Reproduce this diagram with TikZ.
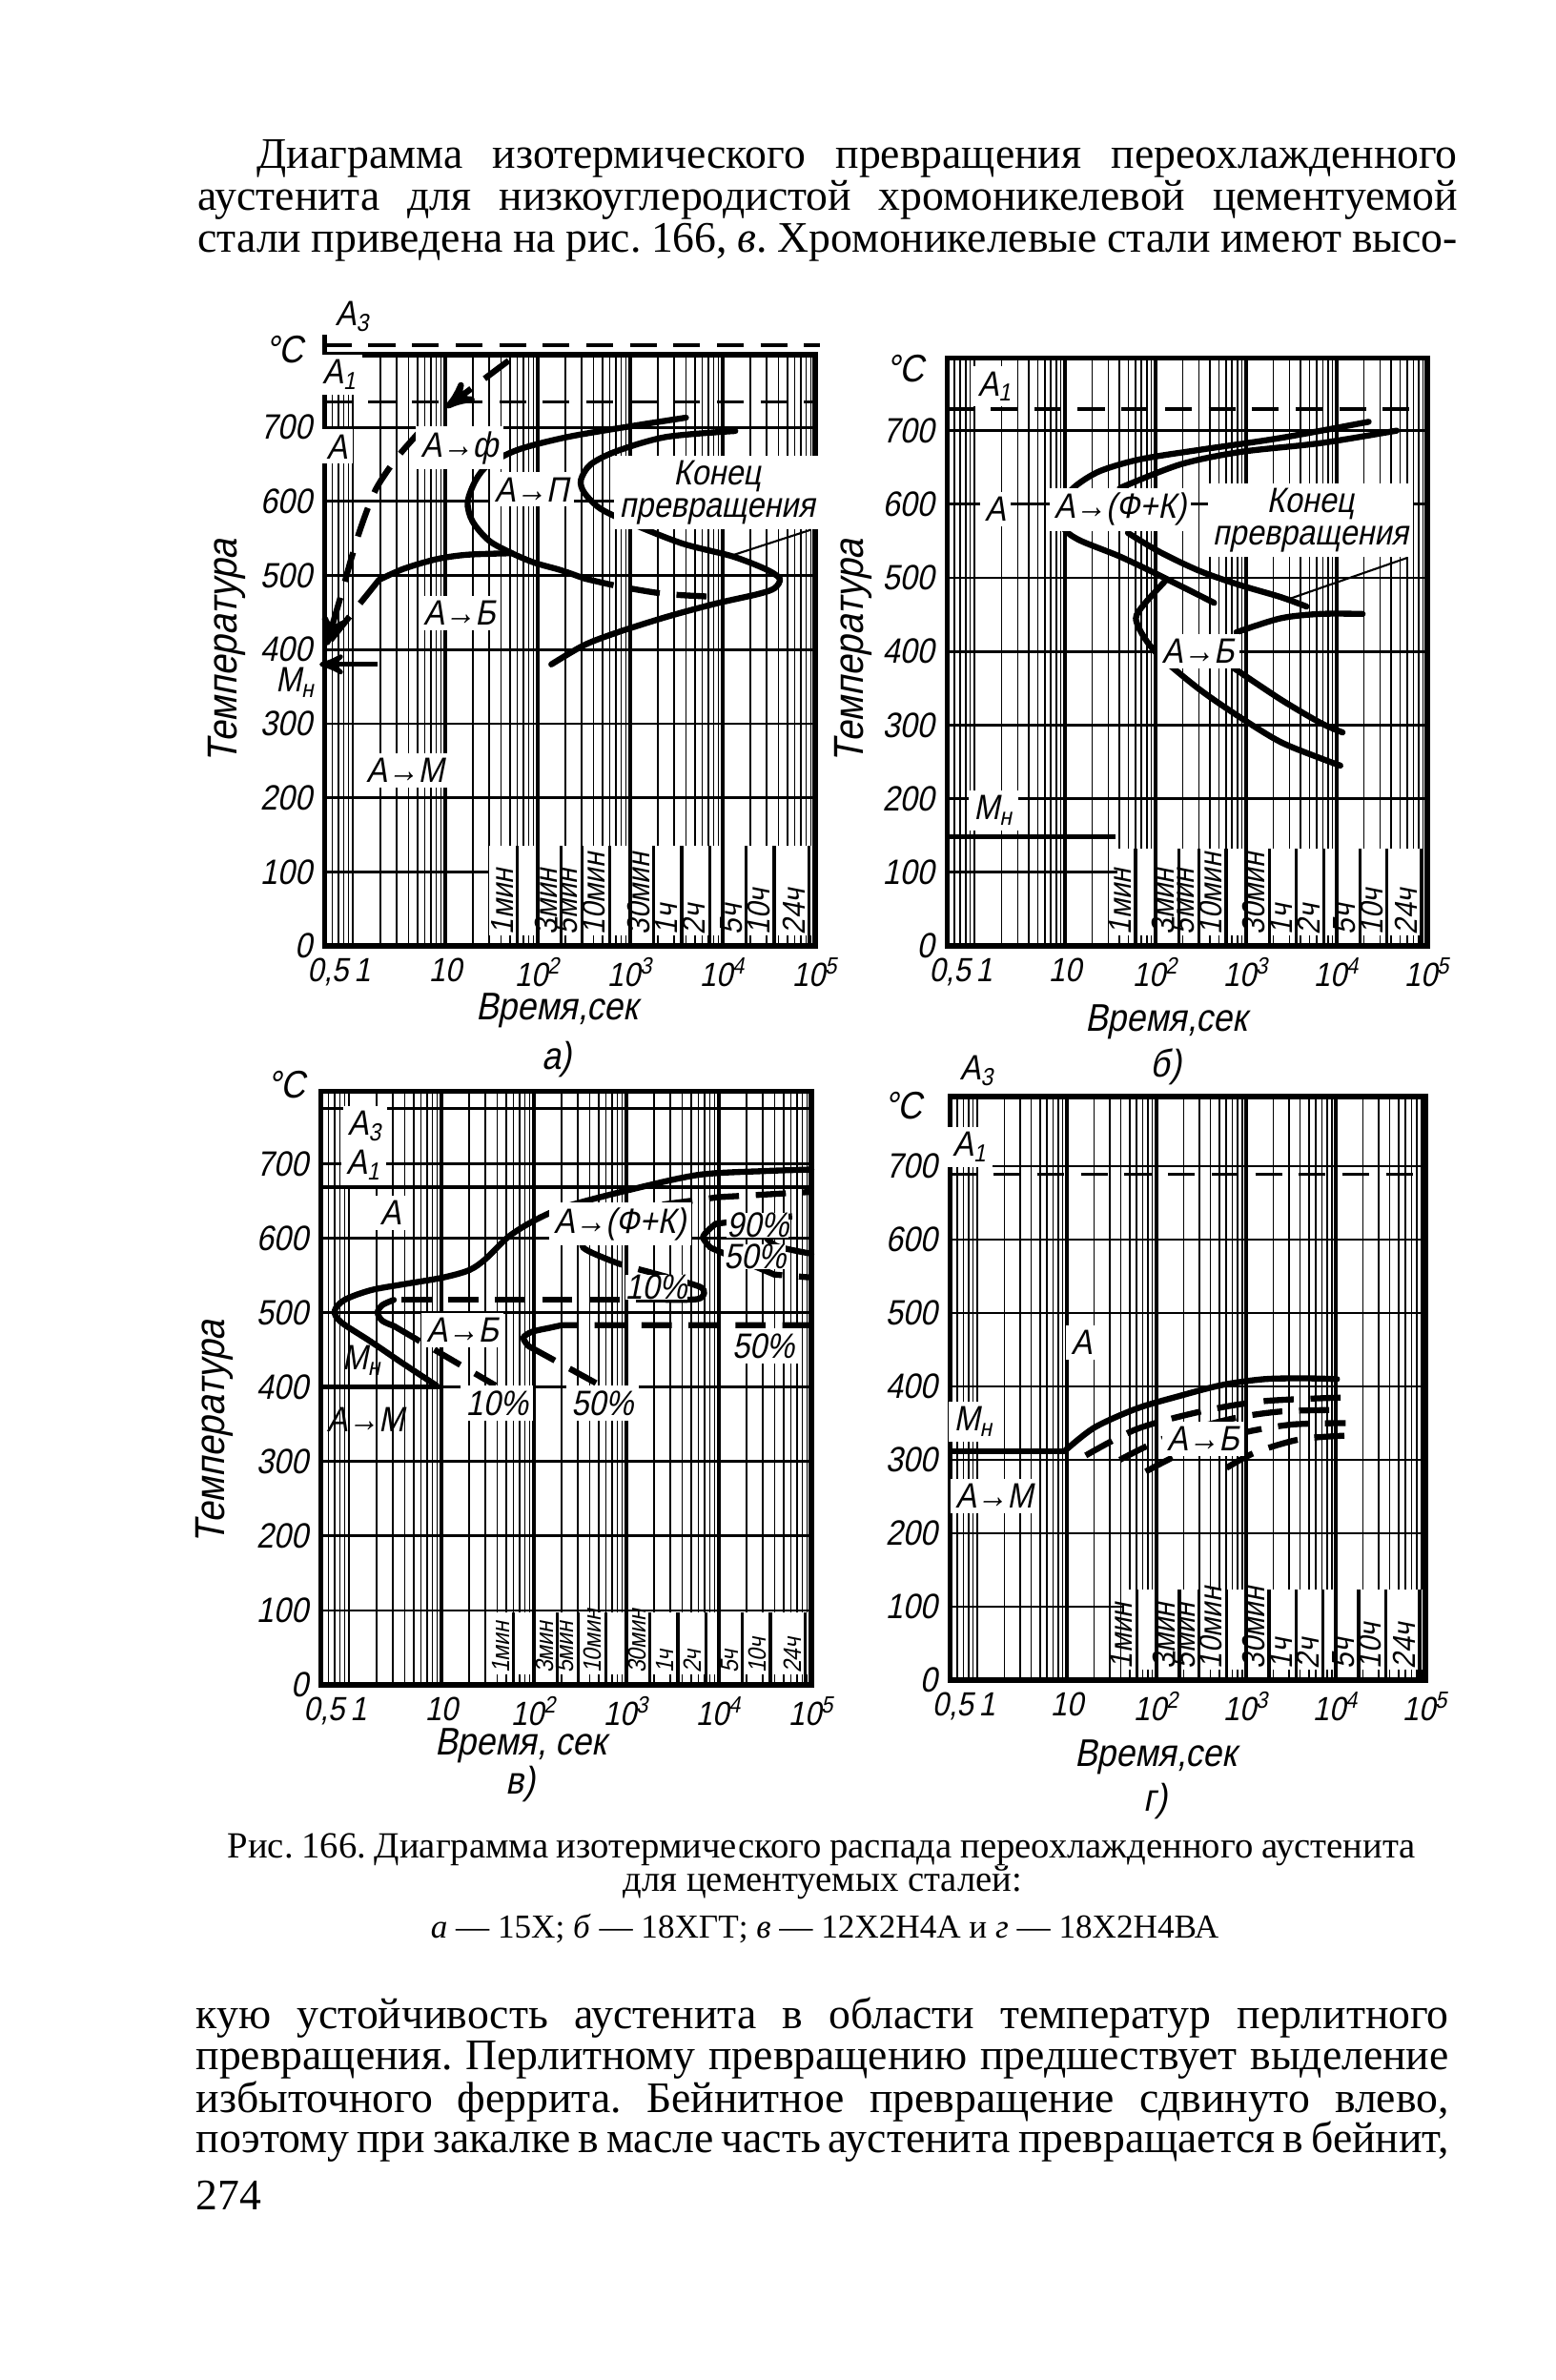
\documentclass[tikz,border=0pt]{standalone}
\usepackage{fontspec}
\setmainfont{Liberation Serif}
\newfontfamily\gost[FakeSlant=0.2,FakeStretch=0.88]{Liberation Sans}
\usepackage{tikz}
\usetikzlibrary{arrows,calc,positioning}
\tikzset{
  fine/.style = {line width=0.45pt},
  hline/.style = {line width=0.8pt},
  decade/.style = {line width=0.9pt},
  frame/.style = {line width=1.5pt},
  curve/.style = {line width=1.8pt, line cap=round},
  dcurve/.style = {curve, line cap=butt, dash pattern=on 9pt off 5pt},
  crit/.style = {line width=1pt, dash pattern=on 8pt off 5pt},
  pointer/.style = {line width=0.6pt},
  plab/.style = {font=\gost\fontsize{10.5}{9.5}\selectfont, inner sep=1.5pt, fill=white, align=center},
  ylab/.style = {font=\gost\fontsize{10.5}{10}\selectfont, anchor=east, inner sep=0pt, xshift=-0.13cm},
  xlab/.style = {font=\gost\fontsize{10}{10}\selectfont, anchor=north, inner sep=0pt, yshift=-0.12cm},
  tlab/.style = {rotate=90, anchor=south west, inner sep=1pt},
  axtitle/.style = {font=\gost\fontsize{11.5}{11}\selectfont, inner sep=0pt},
  bodyline/.style = {anchor=base west, inner sep=0pt, font=\fontsize{13}{16}\selectfont\frenchspacing},
  capline/.style = {anchor=base, inner sep=0pt, font=\fontsize{11}{13}\selectfont\frenchspacing}
}
% log grid, minute/hour marks and axis numbers of one panel
% #1 prefix, #2 frame top, #3 left of label zone, #4 top of label zone, #5 mark font size
\newcommand{\ttdgrid}[5]{%
  \foreach \e in {-1,...,4}
    \foreach \m in {1,...,9} {
      \pgfmathsetmacro{\lx}{\e+log10(\m)}
      \ifdim\lx pt>-0.29pt \draw[fine] (\lx,0) -- (\lx,#2); \fi
    }
  \foreach \T in {1,...,7} \draw[hline] (-0.301,\T) -- (5,\T);
  \foreach \e in {1,...,4} \draw[decade] (\e,0) -- (\e,#2);
  \fill[white] (#3,0.03) rectangle (4.97,#4);
  \foreach \e in {1,...,4}
    \foreach \m in {1,...,9} {
      \pgfmathsetmacro{\lx}{\e+log10(\m)}
      \ifdim\lx pt>#3pt \draw[fine] (\lx,0) -- (\lx,0.14); \fi
    }
  \foreach \lt/\txt [count=\i] in {1.778/1мин,2.255/3мин,2.477/5мин,2.778/10мин,3.255/30мин,
      3.556/1ч,3.857/2ч,4.255/5ч,4.556/10ч,4.936/24ч} {
    \draw[decade] (\lt,0) -- (\lt,#4);
    \node[tlab, font=\gost\fontsize{#5}{#5}\selectfont] (#1-t\i) at (\lt,0.1) {\txt};
  }
  \foreach \e in {2,3,4} \draw[decade] (\e,0) -- (\e,#4);
  \draw[frame] (-0.301,0) rectangle (5,#2);
  \foreach \T/\lab in {0/0,1/100,2/200,3/300,4/400,5/500,6/600,7/700}
    \node[ylab] (#1-y\T) at (-0.301,\T) {\lab};
  \node[xlab] (#1-x0) at (-0.15,0) {0,5\,1};
  \node[xlab] (#1-x1) at (1,0) {10};
  \foreach \e in {2,...,5}
    \node[xlab] (#1-x\e) at (\e,0) {10\textsuperscript{\e}};
}

\begin{document}
\begin{tikzpicture}[>=stealth']
\useasboundingbox (0,0) rectangle (16.32,-24.96);

% text above the figure
\node[bodyline] (top1) at (2.69,-1.76) {\makebox[12.59cm][s]{Диаграмма изотермического превращения переохлажденного}};
\node[bodyline] (top2) at (2.07,-2.20) {\makebox[13.21cm][s]{аустенита для низкоуглеродистой хромоникелевой цементуемой}};
\node[bodyline] (top3) at (2.07,-2.64) {\makebox[13.21cm][s]{стали приведена на рис. 166, \textit{в}. Хромоникелевые стали имеют высо-}};

% a) 15X
\begin{scope}[shift={(3.70,-9.92)}, x=0.97cm, y=0.777cm]
  \ttdgrid{a}{7.98}{1.47}{1.35}{9.5}
  \draw[frame] (-0.301,7.98) -- (-0.301,8.25);
  \draw[crit] (-0.301,8.11) -- (5.05,8.11);
  \draw[crit] (-0.301,7.34) -- (5,7.34);
  \draw[line width=1.4pt, <-] (-0.36,3.8) -- (0.27,3.8);
  \draw[dcurve, ->] plot[smooth] coordinates {(0.73,6.95) (0.478,6.59) (0.248,6.16) (0.088,5.65) (-0.018,5.22) (-0.125,4.74) (-0.285,4.06)};
  \draw[dcurve, ->] (1.686,7.90) -- (1.011,7.27);
  \draw[dcurve] (0.283,4.94) -- (-0.27,4.08);
  \draw[curve] plot[smooth] coordinates {(0.283,4.94) (0.55,5.09) (0.905,5.22) (1.24,5.28) (1.721,5.30)};
  \draw[curve] plot[smooth] coordinates {(3.603,7.13) (3.035,7.02) (2.325,6.87) (1.793,6.70) (1.473,6.50) (1.331,6.29) (1.242,5.99) (1.295,5.73) (1.473,5.47) (1.721,5.30) (1.970,5.17) (2.254,5.07) (2.502,4.96)};
  \draw[dcurve] plot[smooth] coordinates {(2.502,4.96) (2.893,4.85) (3.39,4.75) (3.958,4.71)};
  \draw[curve] plot[smooth] coordinates {(4.136,6.95) (3.39,6.87) (2.858,6.68) (2.573,6.50) (2.467,6.29) (2.502,6.12) (2.68,5.90) (3.035,5.69) (3.567,5.43) (4.10,5.26) (4.456,5.09) (4.615,4.96) (4.563,4.83) (4.385,4.75) (3.923,4.62) (3.39,4.44) (2.858,4.23) (2.502,4.06) (2.147,3.80)};
  \node[plab, fill=none] (a-a3) at (0.0,8.5) {А\textsubscript{3}};
  \node[plab] (a-a1) at (-0.14,7.71) {А\textsubscript{1}};
  \node[plab] (a-a) at (-0.17,6.74) {А};
  \node[plab] (a-af) at (1.155,6.72) {А→ф};
  \node[plab] (a-ap) at (1.934,6.16) {А→П};
  \node[plab] (a-end) at (3.94,6.12) {Конец\\превращения};
  \coordinate (a-endp) at (4.10,5.27);
  \draw[pointer] ([xshift=-3pt]a-end.south east) -- (a-endp);
  \node[plab] (a-ab) at (1.155,4.49) {А→Б};
  \node[plab, fill=none] (a-mn) at (-0.62,3.55) {М\textsubscript{н}};
  \node[plab] (a-am) at (0.567,2.37) {А→М};
\end{scope}
\node[axtitle] (a-deg) at (2.98,-3.67) {°C};
\node[axtitle, rotate=90, font=\gost\fontsize{12.5}{12}\selectfont] (a-ty) at (2.38,-6.83) {Температура};
\node[axtitle] (a-tx) at (5.84,-10.60) {Время,сек};
\node[axtitle, below=0.13cm of a-tx] (a-cap) {а)};

% b) 18XГT
\begin{scope}[shift={(10.22,-9.92)}, x=0.95cm, y=0.772cm]
  \ttdgrid{b}{7.99}{1.58}{1.32}{9.5}
  \draw[crit] (-0.301,7.29) -- (5,7.29);
  \draw[line width=1.4pt] (-0.301,1.486) -- (1.562,1.486);
  \draw[curve] plot[smooth] coordinates {(4.353,7.12) (3.379,6.90) (2.493,6.74) (1.828,6.61) (1.385,6.45) (1.119,6.25) (0.986,6.06) (0.942,5.90) (0.986,5.67) (1.163,5.51) (1.606,5.29) (2.049,5.03) (2.647,4.66)};
  \draw[curve] plot[smooth] coordinates {(2.116,4.97) (1.873,4.64) (1.783,4.45) (1.87,4.2) (2.05,3.93) (2.49,3.48) (2.94,3.10) (3.38,2.77) (3.82,2.55) (4.04,2.45)};
  \draw[curve] plot[smooth] coordinates {(4.663,7.00) (3.821,6.83) (2.936,6.71) (2.271,6.54) (1.606,6.22)};
  \draw[curve] plot[smooth] coordinates {(1.695,5.61) (2.049,5.35) (2.493,5.09) (2.936,4.90) (3.379,4.74) (3.667,4.61)};
  \draw[curve] plot[smooth] coordinates {(2.892,4.26) (3.379,4.45) (3.821,4.51) (4.286,4.51)};
  \draw[curve] plot[smooth] coordinates {(2.869,3.77) (3.379,3.35) (3.821,3.03) (4.065,2.90)};
  \node[plab] (b-a1) at (0.23,7.6) {А\textsubscript{1}};
  \node[plab] (b-a) at (0.23,5.93) {А};
  \node[plab] (b-afk) at (1.61,5.93) {А→(Ф+К)};
  \node[plab] (b-ab) at (2.47,4.0) {А→Б};
  \node[plab] (b-end) at (3.71,5.78) {Конец\\превращения};
  \coordinate (b-endp) at (3.467,4.71);
  \draw[pointer] ([xshift=-2pt]b-end.south east) -- (b-endp);
  \node[plab] (b-mn) at (0.21,1.84) {М\textsubscript{н}};
\end{scope}
\node[axtitle] (b-deg) at (9.49,-3.87) {°C};
\node[axtitle, rotate=90, font=\gost\fontsize{12.5}{12}\selectfont] (b-ty) at (8.95,-6.83) {Температура};
\node[axtitle] (b-tx) at (12.23,-10.72) {Время,сек};
\node[axtitle, below=0.08cm of b-tx] (b-cap) {б)};

% c) 12X2H4A
\begin{scope}[shift={(3.66,-17.67)}, x=0.97cm, y=0.781cm]
  \ttdgrid{c}{7.97}{1.58}{0.97}{7.5}
  \draw[hline] (-0.301,7.74) -- (5,7.74);
  \draw[line width=1.2pt] (-0.301,6.68) -- (5,6.68);
  \draw[line width=1.6pt] (-0.301,4) -- (1.0,4);
  \draw[curve] plot[smooth] coordinates {(5.0,6.92) (4.496,6.90) (3.786,6.85) (3.076,6.66) (2.366,6.43) (2.011,6.24) (1.727,6.02) (1.478,5.72) (1.301,5.57) (1.017,5.47) (0.591,5.38) (0.236,5.30) (-0.048,5.17) (-0.155,5.02) (-0.084,4.87) (0.236,4.61) (0.591,4.31) (0.946,4.02)};
  % 10 %
  \draw[curve] plot[smooth] coordinates {(2.614,6.06) (2.525,5.98) (2.535,5.87) (2.65,5.79)};
  \draw[dcurve] plot[smooth] coordinates {(2.65,5.79) (2.934,5.65) (3.289,5.53) (3.608,5.42)};
  \draw[curve] plot[smooth] coordinates {(3.608,5.42) (3.804,5.34) (3.84,5.26) (3.768,5.18) (3.43,5.17)};
  \draw[dcurve] (3.43,5.17) -- (0.485,5.17);
  \draw[curve] plot[smooth] coordinates {(0.485,5.17) (0.36,5.10) (0.31,5.0) (0.36,4.89) (0.485,4.82)};
  \draw[dcurve] (0.485,4.82) -- (1.585,4.02);
  % 50 %
  \draw[curve] plot[smooth] coordinates {(2.153,4.79) (1.975,4.74) (1.886,4.66) (1.94,4.55)};
  \draw[dcurve] (2.153,4.79) -- (2.3,4.83) -- (5,4.83);
  \draw[dcurve] (1.94,4.55) -- (2.72,4.02);
  \draw[curve] plot[smooth] coordinates {(3.963,6.19) (3.83,6.02) (3.91,5.87)};
  \draw[dcurve] (3.963,6.19) -- (4.5,6.28) -- (5,6.3);
  \draw[dcurve] (3.91,5.87) -- (4.6,5.51) -- (5,5.47);
  \draw[curve] plot[smooth] coordinates {(4.49,6.04) (4.63,5.89) (5.0,5.79)};
  \draw[dcurve] (3.39,6.45) -- (4.0,6.55) -- (5.0,6.62);
  \node[plab] (c-a3) at (0.175,7.5) {А\textsubscript{3}};
  \node[plab] (c-a1) at (0.16,6.98) {А\textsubscript{1}};
  \node[plab] (c-a) at (0.45,6.34) {А};
  \node[plab] (c-afk) at (2.93,6.19) {А→(Ф+К)};
  \node[plab, inner sep=0pt] (c-p90) at (4.42,6.17) {90\%};
  \node[plab, inner sep=0pt] (c-p50a) at (4.39,5.75) {50\%};
  \node[plab, inner sep=0pt] (c-p10a) at (3.32,5.34) {10\%};
  \node[plab] (c-ab) at (1.23,4.76) {А→Б};
  \node[plab] (c-p50b) at (4.48,4.55) {50\%};
  \node[plab, fill=none, inner sep=0pt] (c-mn) at (0.14,4.36) {М\textsubscript{н}};
  \node[plab, fill=none, inner sep=0pt] (c-am) at (0.18,3.56) {А→М};
  \node[plab] (c-p10b) at (1.60,3.78) {10\%};
  \node[plab] (c-p50c) at (2.74,3.78) {50\%};
\end{scope}
\node[axtitle] (c-deg) at (3.00,-11.38) {°C};
\node[axtitle, rotate=90, font=\gost\fontsize{12.5}{12}\selectfont] (c-ty) at (2.245,-15.02) {Температура};
\node[axtitle] (c-tx) at (5.46,-18.31) {Время, сек};
\node[axtitle, below=0.02cm of c-tx] (c-cap) {в)};

% d) 18X2H4BA
\begin{scope}[shift={(10.25,-17.62)}, x=0.94cm, y=0.77cm]
  \ttdgrid{d}{7.95}{1.62}{1.23}{9.5}
  \draw[crit] (-0.301,6.89) -- (5,6.89);
  \draw[line width=1.6pt] (-0.301,3.12) -- (0.975,3.12);
  \draw[curve] plot[smooth] coordinates {(0.975,3.12) (1.307,3.44) (1.782,3.70) (2.256,3.87) (2.732,4.02) (3.206,4.10) (3.682,4.11) (4.014,4.10)};
  \draw[dcurve] plot[smooth] coordinates {(1.21,3.06) (1.78,3.42) (2.5,3.66) (3.2,3.8) (4.11,3.85)};
  \draw[dcurve] plot[smooth] coordinates {(1.59,3.0) (2.1,3.3) (2.8,3.55) (3.4,3.66) (4.11,3.68)};
  \draw[dcurve] plot[smooth] coordinates {(1.88,2.84) (2.3,3.1) (2.9,3.35) (3.5,3.48) (4.11,3.5)};
  \draw[dcurve] plot[smooth] coordinates {(2.78,2.89) (3.1,3.1) (3.6,3.28) (4.11,3.33)};
  \node[plab, fill=none] (d-a3) at (0.0,8.3) {А\textsubscript{3}};
  \node[plab] (d-a1) at (-0.08,7.26) {А\textsubscript{1}};
  \node[plab] (d-a) at (1.165,4.6) {А};
  \node[plab] (d-mn) at (-0.04,3.52) {М\textsubscript{н}};
  \node[plab] (d-am) at (0.19,2.51) {А→М};
  \node[plab] (d-ab) at (2.52,3.29) {А→Б};
\end{scope}
\node[axtitle] (d-deg) at (9.47,-11.60) {°C};
\node[axtitle] (d-tx) at (12.12,-18.43) {Время,сек};
\node[axtitle, below=0.08cm of d-tx] (d-cap) {г)};

% caption
\node[capline, anchor=base west] (cap1) at (2.38,-19.48) {\makebox[12.46cm][s]{Рис. 166. Диаграмма изотермического распада переохлажденного аустенита}};
\node[capline] (cap2) at (8.63,-19.83) {для цементуемых сталей:};
\node[capline, font=\fontsize{10}{12}\selectfont] (cap3) at (8.65,-20.32) {\textit{а} — 15Х; \textit{б} — 18ХГТ; \textit{в} — 12Х2Н4А и \textit{г} — 18Х2Н4ВА};

% text below the figure
\node[bodyline] (bot1) at (2.05,-21.27) {\makebox[13.14cm][s]{кую устойчивость аустенита в области температур перлитного}};
\node[bodyline] (bot2) at (2.05,-21.70) {\makebox[13.14cm][s]{превращения. Перлитному превращению предшествует выделение}};
\node[bodyline] (bot3) at (2.05,-22.15) {\makebox[13.14cm][s]{избыточного феррита. Бейнитное превращение сдвинуто влево,}};
\node[bodyline] (bot4) at (2.05,-22.57) {\makebox[13.14cm][s]{поэтому при закалке в масле часть аустенита превращается в бейнит,}};
\node[bodyline] (page) at (2.05,-23.17) {274};
\end{tikzpicture}
\end{document}
